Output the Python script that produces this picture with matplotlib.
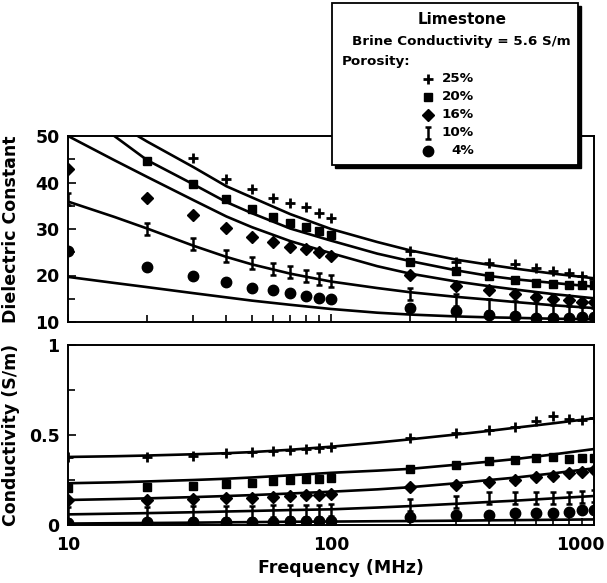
import numpy as np
import matplotlib
matplotlib.use("Agg")
import matplotlib.pyplot as plt
from matplotlib.path import Path
from matplotlib.patches import Rectangle
from matplotlib.lines import Line2D
from matplotlib.ticker import FixedLocator, FuncFormatter, LogLocator, NullFormatter
from matplotlib.transforms import ScaledTranslation

plt.rcParams['font.family'] = ['DejaVu Sans']
plt.rcParams['font.weight'] = 'bold'

nan = np.nan

# measured frequencies (MHz)
freq = [10, 20, 30, 40, 50, 60, 70, 80, 90, 100,
        200, 300, 400, 500, 600, 700, 800, 900, 1000]

porosity = ['25%', '20%', '16%', '10%', '4%']

# dielectric constant, one list per porosity
eps_25 = [nan, nan, 45.2, 40.7, 38.5, 36.7, 35.5, 34.7, 33.5, 32.4,
          25.2, 22.9, 22.6, 22.4, 21.6, 20.9, 20.5, 19.9, 19.2]
eps_20 = [nan, 44.7, 39.6, 36.5, 34.4, 32.6, 31.2, 30.5, 29.5, 28.8,
          23.0, 20.9, 19.8, 19.1, 18.4, 18.2, 18.0, 17.9, 17.9]
eps_16 = [42.9, 36.7, 33.1, 30.3, 28.3, 27.1, 26.1, 25.6, 25.0, 24.1,
          20.2, 17.8, 16.8, 16.1, 15.3, 15.0, 14.8, 14.4, 14.2]
eps_10 = [36.5, 29.9, 26.7, 24.3, 22.7, 21.4, 20.7, 20.0, 19.3, 18.9,
          16.1, 14.8, 13.6, 13.2, 12.7, 12.3, 12.1, 11.9, 11.7]
eps_4 = [25.2, 21.8, 20.0, 18.5, 17.4, 16.8, 16.2, 15.6, 15.1, 14.9,
         13.0, 12.4, 11.5, 11.2, 10.9, 10.9, 10.9, 11.0, 11.1]

# conductivity (S/m)
sig_25 = [.376, .376, .383, .402, .407, .413, .417, .422, .426, .435,
          .482, .513, .528, .546, .580, .606, .587, .583, .593]
sig_20 = [.204, .209, .216, .226, .235, .244, .250, .253, .257, .259,
          .309, .333, .356, .361, .374, .380, .367, .370, .370]
sig_16 = [.139, .139, .143, .148, .152, .157, .161, .166, .166, .170,
          .209, .222, .241, .250, .265, .272, .287, .296, .306]
sig_10 = [.065, .068, .070, .072, .074, .076, .078, .080, .080, .082,
          .111, .130, .148, .148, .148, .150, .150, .157, .160]
sig_4 = [.010, .018, .018, .018, .018, .018, .020, .020, .020, .022,
         .046, .056, .056, .068, .065, .065, .074, .083, .083]

# model curves
curve_f = [10, 15, 20, 30, 40, 50, 70, 100, 150, 200, 300, 400, 500, 700, 1000]
eps_fit_25 = [60.0, 53.0, 48.8, 43.3, 39.2, 36.8, 33.2, 30.0, 27.2, 25.4, 23.4, 22.3, 21.5, 20.4, 19.4]
eps_fit_20 = [56.0, 50.0, 44.8, 39.6, 35.8, 33.4, 30.1, 27.5, 24.7, 23.1, 21.1, 19.9, 19.2, 18.4, 17.6]
eps_fit_16 = [50.0, 44.8, 41.2, 36.2, 32.7, 30.4, 27.4, 24.8, 22.0, 20.4, 18.7, 17.7, 17.0, 16.0, 15.1]
eps_fit_10 = [35.9, 32.6, 30.1, 26.4, 24.0, 22.4, 20.4, 18.7, 17.3, 16.4, 15.4, 14.8, 14.3, 13.6, 13.0]
eps_fit_4 = [19.7, 18.4, 17.5, 16.2, 15.3, 14.6, 13.7, 12.8, 12.0, 11.6, 11.2, 11.0, 10.9, 10.7, 10.6]
sig_fit_25 = [.378, .382, .386, .393, .399, .405, .418, .435, .458, .476, .503, .523, .540, .565, .593]
sig_fit_20 = [.232, .237, .242, .250, .257, .264, .276, .290, .302, .312, .335, .352, .366, .392, .422]
sig_fit_16 = [.139, .144, .148, .155, .161, .166, .175, .185, .198, .210, .232, .250, .263, .287, .315]
sig_fit_10 = [.059, .063, .066, .071, .075, .078, .083, .087, .097, .105, .118, .128, .135, .148, .161]
sig_fit_4 = [.008, .010, .011, .013, .015, .016, .018, .019, .021, .022, .024, .026, .027, .029, .031]

# I-beam marker like the one in the original legend
ibeam = Path([(-0.55, 1), (0.55, 1), (0, 1), (0, -1), (-0.55, -1), (0.55, -1)],
             [Path.MOVETO, Path.LINETO, Path.MOVETO, Path.LINETO, Path.MOVETO, Path.LINETO])

styles = [
    dict(marker='+', markersize=7.5, markeredgewidth=2.0),
    dict(marker='s', markersize=6),
    dict(marker='D', markersize=6),
    dict(marker=ibeam, markersize=8.5, markeredgewidth=1.8, markerfacecolor='none'),
    dict(marker='o', markersize=7.5),
]

W, H = 607, 583
fig = plt.figure(figsize=(W / 100, H / 100), dpi=100)
ax1 = fig.add_axes([68 / W, 1 - 322 / H, 526 / W, 186 / H])
ax2 = fig.add_axes([68 / W, 1 - 525 / H, 526 / W, 180 / H])

for ax, pts, fits in [
    (ax1, [eps_25, eps_20, eps_16, eps_10, eps_4],
     [eps_fit_25, eps_fit_20, eps_fit_16, eps_fit_10, eps_fit_4]),
    (ax2, [sig_25, sig_20, sig_16, sig_10, sig_4],
     [sig_fit_25, sig_fit_20, sig_fit_16, sig_fit_10, sig_fit_4]),
]:
    for fit in fits:
        ax.plot(curve_f, fit, color='black', lw=1.9, zorder=2)
    for p, st in zip(pts, styles):
        ax.plot(freq, p, linestyle='none', color='black', zorder=3, **st)
    ax.set_xscale('log')
    ax.set_xlim(10, 1000)
    ax.xaxis.set_major_locator(FixedLocator([10, 100, 1000]))
    ax.xaxis.set_minor_locator(LogLocator(base=10, subs=np.arange(2, 10)))
    ax.xaxis.set_minor_formatter(NullFormatter())
    ax.tick_params(which='both', direction='in', top=False, right=False,
                   width=1.2, labelsize=12.5, pad=6)
    ax.tick_params(which='major', length=6)
    ax.tick_params(which='minor', length=5)
    for s in ax.spines.values():
        s.set_linewidth(1.4)

ax1.set_ylim(10, 50)
ax1.yaxis.set_major_locator(FixedLocator([10, 20, 30, 40, 50]))
ax1.yaxis.set_minor_locator(FixedLocator([15, 25, 35, 45]))
ax1.tick_params(labelbottom=False)
ax1.set_ylabel('Dielectric Constant', fontsize=12.5, fontweight='bold')
ax1.yaxis.set_label_coords(-0.091, 0.5)

ax2.set_ylim(0, 1)
ax2.yaxis.set_major_locator(FixedLocator([0, 0.5, 1]))
ax2.yaxis.set_minor_locator(FixedLocator([0.25, 0.75]))
ax2.yaxis.set_major_formatter(FuncFormatter(lambda v, p: f'{v:g}'))
# the right-most label is placed by hand so it stays inside the figure
ax2.xaxis.set_major_formatter(FuncFormatter(lambda v, p: f'{v:g}' if v < 999 else ''))
ax2.tick_params(axis='x', pad=8)
ax2.text(1000, 0, f'{freq[-1]:g}', ha='right', va='top', fontsize=12.5,
         transform=ax2.get_xaxis_transform() + ScaledTranslation(0.11, -0.112, fig.dpi_scale_trans))
ax2.set_ylabel('Conductivity (S/m)', fontsize=12.5, fontweight='bold')
ax2.yaxis.set_label_coords(-0.091, 0.5)
ax2.set_xlabel('Frequency (MHz)', fontsize=12.5, fontweight='bold')
ax2.xaxis.set_label_coords((341 - 68) / 526, -(568 - 525) / 180)
ax2.xaxis.label.set_verticalalignment('center')


# legend box drawn over the top axes frame
def fx(px):
    return px / W


def fy(py):
    return 1 - py / H


bx0, bx1, by0, by1 = 332, 578, 3, 165
fig.add_artist(Rectangle((fx(bx0 + 2.5), fy(by1 + 2.5)), fx(bx1 - bx0), (by1 - by0) / H,
                         transform=fig.transFigure, facecolor='black', edgecolor='black', zorder=5))
fig.add_artist(Rectangle((fx(bx0), fy(by1)), fx(bx1 - bx0), (by1 - by0) / H,
                         transform=fig.transFigure, facecolor='white', edgecolor='black',
                         lw=1.3, zorder=6))

fig.text(fx(462), fy(20), 'Limestone', ha='center', va='center', fontsize=11, zorder=7)
fig.text(fx(352), fy(42), 'Brine Conductivity = 5.6 S/m', ha='left', va='center',
         fontsize=9.7, zorder=7)
fig.text(fx(342), fy(62), 'Porosity:', ha='left', va='center', fontsize=9.7, zorder=7)
for i, (lab, st) in enumerate(zip(porosity, styles)):
    y = 79 + 18 * i
    fig.add_artist(Line2D([fx(428)], [fy(y)], transform=fig.transFigure, color='black',
                          linestyle='none', zorder=7, **st))
    fig.text(fx(474), fy(y), lab, ha='right', va='center', fontsize=9.7, zorder=7)

fig.savefig('out.png', dpi=100)
